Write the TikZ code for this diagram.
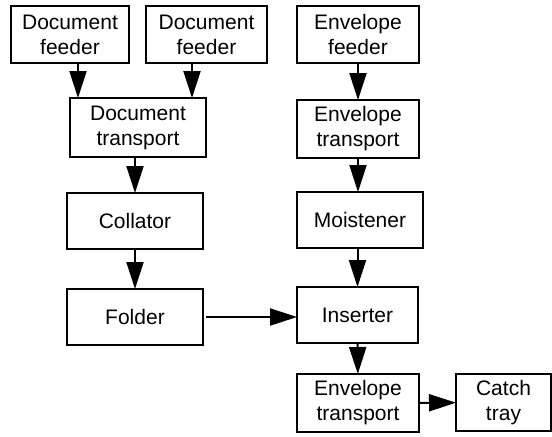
\documentclass[tikz,border=0pt]{standalone}
\usepackage{fontspec}
\setmainfont{Liberation Sans}
\usepackage{tikz}
\usetikzlibrary{calc,arrows.meta}

\begin{document}
\begin{tikzpicture}[x=0.5pt,y=-0.5pt,inner sep=0pt,outer sep=0pt,line width=1pt,
    every node/.style={font=\fontsize{10.5}{12.5}\selectfont, align=center},
    block/.style={draw, rectangle},
    arr/.style={-{Triangle[length=13.5pt,width=8.5pt]}}]
    \useasboundingbox (0,0) rectangle (552,436);

    % document side
    \node[block, minimum width=59pt, minimum height=28.5pt] (doc_feeder_a) at (70, 34.5)
    {Document\\feeder};
    \node[block, minimum width=60.5pt, minimum height=28.5pt] (doc_feeder_b) at (206.5, 34.5)
    {Document\\feeder};
    \node[block, minimum width=68pt, minimum height=29.5pt] (doc_transport) at (138, 127.5)
    {Document\\transport};
    \node[block, minimum width=68pt, minimum height=28pt] (collator) at (135, 221)
    {Collator};
    \node[block, minimum width=68pt, minimum height=28pt] (folder) at (135, 317)
    {Folder};

    % envelope side
    \node[block, minimum width=61pt, minimum height=28.5pt] (env_feeder) at (358, 34.5)
    {Envelope\\feeder};
    \node[block, minimum width=61pt, minimum height=29pt] (env_transport) at (358, 129)
    {Envelope\\transport};
    \node[block, minimum width=63pt, minimum height=28pt] (moistener) at (360, 220)
    {Moistener};
    \node[block, minimum width=60.5pt, minimum height=28pt] (inserter) at (357.5, 315)
    {Inserter};
    \node[block, minimum width=61pt, minimum height=29pt] (env_transport_b) at (358, 403)
    {Envelope\\transport};
    \node[block, minimum width=47.5pt, minimum height=28.5pt] (catch_tray) at (503.5, 402.5)
    {Catch\\tray};

    % flow
    \coordinate (fa_out) at ($(doc_feeder_a.south)+(8,0)$);
    \coordinate (fb_out) at ($(doc_feeder_b.south)+(-14.5,0)$);
    \draw[arr] (fa_out) -- (fa_out |- doc_transport.north);
    \draw[arr] (fb_out) -- (fb_out |- doc_transport.north);
    \draw[arr] (doc_transport.south -| collator.north) -- (collator.north);
    \draw[arr] (collator) -- (folder);
    \draw[arr, shorten <=1.5pt] (folder.east) -- (folder.east -| inserter.west);

    \draw[arr] (env_feeder) -- (env_transport);
    \draw[arr] (env_transport.south) -- (env_transport.south |- moistener.north);
    \draw[arr] (inserter.north |- moistener.south) -- (inserter.north);
    \draw[arr] (inserter) -- (env_transport_b);
    \draw[arr] (env_transport_b) -- (catch_tray);

\end{tikzpicture}
\end{document}
